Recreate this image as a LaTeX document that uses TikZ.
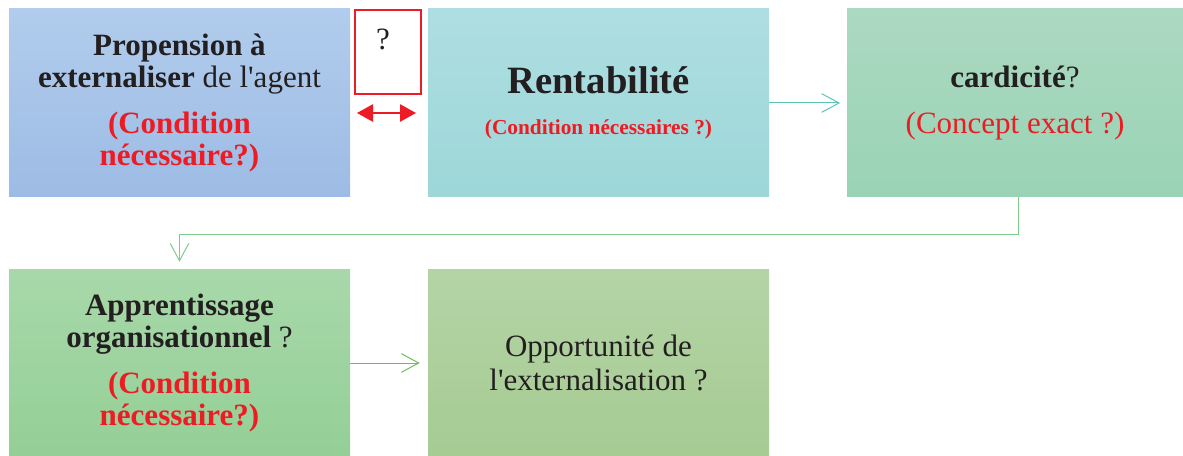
\documentclass[tikz,border=0pt]{standalone}
\usepackage{fontspec}
\setmainfont{Liberation Serif}[Ligatures=TeXOff]
\usetikzlibrary{arrows.meta}
\definecolor{cred}{HTML}{ED1C24}
\definecolor{ctext}{HTML}{231F20}
\definecolor{boxAt}{HTML}{B1CCEC}\definecolor{boxAb}{HTML}{9DBCE5}
\definecolor{boxBt}{HTML}{AEDEE2}\definecolor{boxBb}{HTML}{9DD7D8}
\definecolor{boxCt}{HTML}{ACD9C1}\definecolor{boxCb}{HTML}{99D3B5}
\definecolor{boxDt}{HTML}{A8D8AA}\definecolor{boxDb}{HTML}{94CF96}
\definecolor{boxEt}{HTML}{B4D4A5}\definecolor{boxEb}{HTML}{A6CB93}
\definecolor{cteal}{HTML}{5CC4B6}
\definecolor{cgreenA}{HTML}{7ECB8E}
\definecolor{cgreenB}{HTML}{6DBE5C}
\begin{document}
\begin{tikzpicture}[x=0.75pt,y=-0.75pt,
  boxnode/.style={rectangle, inner sep=0pt, minimum width=255.75pt, minimum height=141pt,
    align=center, text=ctext, font=\fontsize{23.25}{24}\selectfont},
  thinarrow/.style={line width=0.75pt, -{Straight Barb[length=13pt,width=14pt,line width=0.75pt]}},
  redarrow/.style={cred, line width=1.2pt, {Triangle[length=12pt,width=13pt]}-{Triangle[length=12pt,width=13pt]}}
]
\useasboundingbox (0,0) rectangle (1183,456);

\node[boxnode, top color=boxAt, bottom color=boxAb] (b1) at (179.5,103)
  {\textbf{Propension à}\\ \textbf{externaliser} de l'agent\\[11pt]
   \textcolor{cred}{\textbf{(Condition}}\\ \textcolor{cred}{\textbf{nécessaire?)}}};

\node[boxnode, top color=boxBt, bottom color=boxBb] (b2) at (598.5,103)
  {{\fontsize{29}{30}\selectfont\bfseries Rentabilité}\\[7pt]
   {\fontsize{16}{18}\selectfont\bfseries\color{cred}(Condition nécessaires ?)}};

\node[boxnode, minimum width=252pt, top color=boxCt, bottom color=boxCb] (b3) at (1015,103)
  {\textbf{cardicité}?\\[10.5pt] \textcolor{cred}{(Concept exact ?)}};

\node[boxnode, minimum height=139.5pt, top color=boxDt, bottom color=boxDb] (b4) at (179.5,363)
  {\textbf{Apprentissage}\\ \textbf{organisationnel} ?\\[11pt]
   \textcolor{cred}{\textbf{(Condition}}\\ \textcolor{cred}{\textbf{nécessaire?)}}};

\node[boxnode, minimum height=139.5pt, top color=boxEt, bottom color=boxEb] (b5) at (598.5,363)
  {Opportunité de\\[1.5pt] l'externalisation ?};

\node[rectangle, draw=cred, line width=0.8pt, fill=white, inner sep=0pt,
  minimum width=49.5pt, minimum height=63pt] (q) at (388,52) {};
\node[anchor=base, inner sep=0pt, text=ctext, font=\fontsize{23.25}{24}\selectfont] (qt) at (383,50) {?};

\coordinate (ra) at (357,113);
\coordinate (rb) at (416,113);
\draw[redarrow] (ra) -- (rb);

\draw[thinarrow, cteal, shorten >=5pt] (b2.east) -- (b3.west);
\draw[thinarrow, cgreenA, shorten >=6pt] ([shift={(3,0)}]b3.south) -- ++(0,37) -| (b4.north);
\draw[thinarrow, cgreenB, shorten >=6pt] (b4.east) -- (b5.west);
\end{tikzpicture}
\end{document}
